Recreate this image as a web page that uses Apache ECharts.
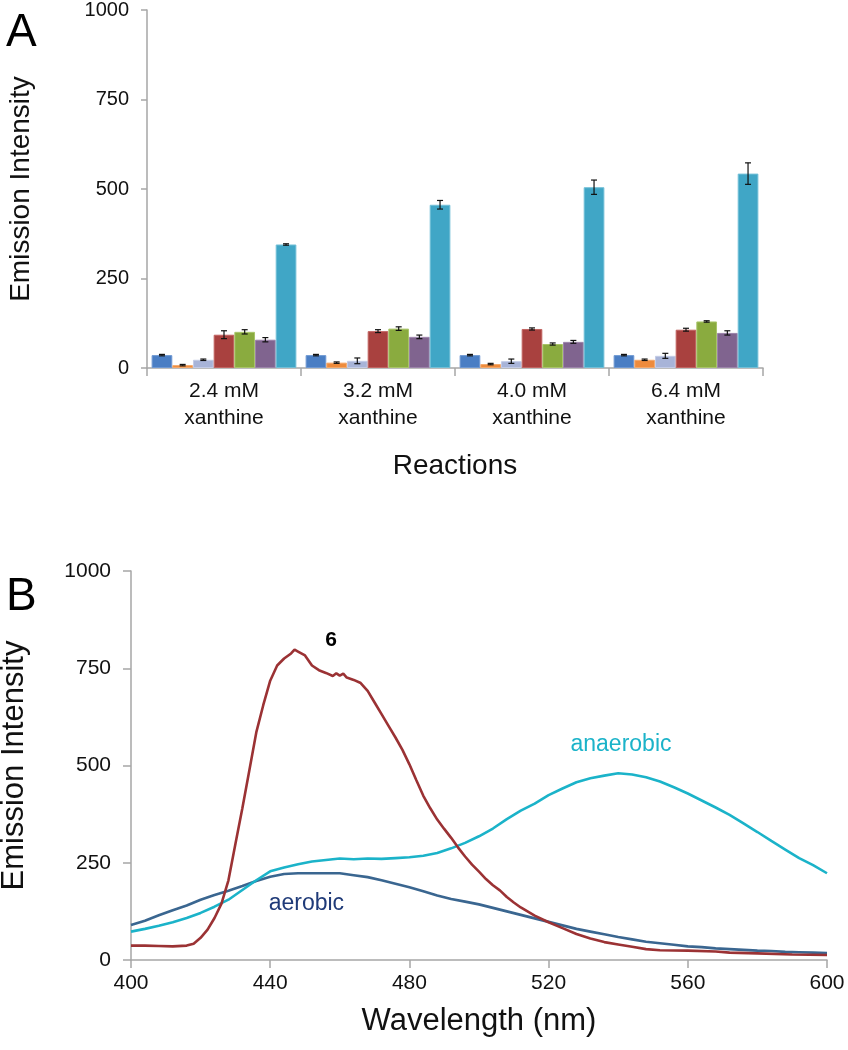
<!DOCTYPE html>
<html>
<head>
<meta charset="utf-8">
<script src="https://cdn.jsdelivr.net/npm/echarts@6/dist/echarts.min.js"></script>
<style>
html,body{margin:0;padding:0;background:#fff;}
#chart{width:848px;height:1050px;}
</style>
</head>
<body>
<div id="chart"></div>
<script>
// ---------- Panel A data ----------
const categories = ['2.4 mM\nxanthine', '3.2 mM\nxanthine', '4.0 mM\nxanthine', '6.4 mM\nxanthine'];
const seriesNames = ['S1', 'S2', 'S3', 'S4', 'S5', 'S6', 'S7'];
const s1Vals = [36, 36, 36, 36];
const s2Vals = [8, 15, 11, 23];
const s3Vals = [23, 20, 19, 34];
const s4Vals = [93, 103, 109, 107];
const s5Vals = [101, 110, 67, 130];
const s6Vals = [79, 87, 73, 98];
const s7Vals = [345, 456, 505, 543];
const s1Err = [2, 2, 2, 2];
const s2Err = [2, 2, 2, 2];
const s3Err = [2, 8, 6, 7];
const s4Err = [11, 4, 3, 4];
const s5Err = [6, 5, 3, 2];
const s6Err = [6, 5, 4, 6];
const s7Err = [2, 12, 20, 30];
const yTicksA = [0, 250, 500, 750, 1000];

// ---------- Panel B data ----------
const redWl = [400,404,408,412,416,418,420,422,424,426,428,430,432,434,436,438,440,442,444,446,447,448,450,452,454,456,458,459,460,461,462,464,466,468,470,472,474,476,478,480,482,484,486,488,490,492,494,496,498,500,502,504,506,508,510,512,516,520,524,528,532,536,540,544,548,552,560,568,572,580,590,600];
const redVals = [37,37,36,35,37,42,57,78,108,145,205,298,390,487,585,655,718,757,775,788,798,793,783,757,745,738,730,737,731,736,726,720,712,692,662,632,602,572,540,503,462,422,390,361,337,314,289,266,245,227,208,192,179,162,148,135,114,97,82,67,55,46,40,34,28,25,24,22,19,17,14,13];
const wl4 = [400,404,408,412,416,420,424,428,432,436,440,444,448,452,456,460,464,468,472,476,480,484,488,492,496,500,504,508,512,516,520,524,528,532,536,540,544,548,552,556,560,564,568,572,576,580,584,588,592,596,600];
const anaerobicVals = [73,80,88,97,108,121,137,155,180,205,228,238,246,253,257,261,259,261,260,262,264,268,275,287,301,318,338,362,384,402,424,441,457,467,474,480,477,470,459,444,428,410,392,373,351,329,306,284,262,244,223];
const aerobicVals = [90,101,115,128,140,155,167,178,190,203,214,221,223,223,223,223,218,213,205,196,187,177,166,157,150,143,134,125,116,107,98,89,80,73,66,59,53,47,43,39,35,33,30,28,26,24,23,21,20,19,18];
const yTicksB = [0, 250, 500, 750, 1000];
const xTicksB = [400, 440, 480, 520, 560, 600];

const barVals = [s1Vals, s2Vals, s3Vals, s4Vals, s5Vals, s6Vals, s7Vals];
const barErrs = [s1Err, s2Err, s3Err, s4Err, s5Err, s6Err, s7Err];
const barColors = ['#4A7EC4', '#EE8B3C', '#A8B4D8', '#A9413F', '#8AAB3F', '#80648F', '#40A6C6'];
const barBorders = ['#6F98D2', '#F4A86A', '#C2CBE6', '#C26462', '#A8C468', '#9C83AA', '#72BFD7'];

const FONT = 'Liberation Sans, Arial, sans-serif';
const GAP = 0.06;
const axisGray = '#A6A6A6';
const plain = v => String(v);

const chart = echarts.init(document.getElementById('chart'));

const barSeries = barVals.map((vals, i) => ({
  type: 'bar',
  name: seriesNames[i],
  xAxisIndex: 0, yAxisIndex: 0,
  data: vals,
  barGap: '0%',
  barCategoryGap: (GAP * 100) + '%',
  itemStyle: { color: barColors[i], borderColor: barBorders[i], borderWidth: 1 },
  silent: true
}));

const errData = [];
barVals.forEach((vals, s) => vals.forEach((v, c) => errData.push([c, s, v, barErrs[s][c]])));

const errSeries = {
  type: 'custom',
  xAxisIndex: 0, yAxisIndex: 0,
  z: 10,
  silent: true,
  data: errData,
  encode: { x: 0, y: 2 },
  renderItem: function (params, api) {
    const c = api.value(0), s = api.value(1), v = api.value(2), e = api.value(3);
    const band = api.size([1, 0])[0];
    const total = band * (1 - GAP);
    const bw = total / barVals.length;
    const center = api.coord([c, 0])[0];
    const x = center - total / 2 + (s + 0.5) * bw;
    const yT = api.coord([c, v + e])[1];
    const yB = api.coord([c, v - e])[1];
    const h = 3;
    const st = { stroke: '#111', lineWidth: 1.2 };
    return {
      type: 'group',
      children: [
        { type: 'line', shape: { x1: x, y1: yT, x2: x, y2: yB }, style: st },
        { type: 'line', shape: { x1: x - h, y1: yT, x2: x + h, y2: yT }, style: st },
        { type: 'line', shape: { x1: x - h, y1: yB, x2: x + h, y2: yB }, style: st }
      ]
    };
  }
};

function pairs(xs, ys) { return xs.map((x, i) => [x, ys[i]]); }

const lineBase = { type: 'line', xAxisIndex: 1, yAxisIndex: 1, showSymbol: false, symbol: 'none', silent: true };

const option = {
  animation: false,
  backgroundColor: '#fff',
  textStyle: { fontFamily: FONT },
  grid: [
    { left: 147, top: 10, width: 616, height: 358, containLabel: false, outerBoundsMode: 'none' },
    { left: 131, top: 571, width: 696, height: 389, containLabel: false, outerBoundsMode: 'none' }
  ],
  xAxis: [
    {
      gridIndex: 0, type: 'category', data: categories,
      axisLine: { lineStyle: { color: axisGray, width: 1.5 } },
      axisTick: { show: true, length: 8, interval: 0, lineStyle: { color: axisGray, width: 1.5 } },
      axisLabel: { color: '#111', fontSize: 21, fontFamily: FONT, lineHeight: 27, margin: 10, interval: 0 },
      name: 'Reactions', nameLocation: 'middle', nameGap: 84,
      nameTextStyle: { fontSize: 28, color: '#111', fontFamily: FONT }
    },
    {
      gridIndex: 1, type: 'value', min: xTicksB[0], max: xTicksB[xTicksB.length - 1], interval: 40,
      axisLine: { onZero: false, lineStyle: { color: axisGray, width: 1.5 } },
      axisTick: { show: true, length: 8, lineStyle: { color: axisGray, width: 1.5 } },
      axisLabel: { color: '#111', fontSize: 21, fontFamily: FONT, margin: 13, formatter: plain },
      splitLine: { show: false },
      name: 'Wavelength (nm)', nameLocation: 'middle', nameGap: 46,
      nameTextStyle: { fontSize: 31, color: '#111', fontFamily: FONT }
    }
  ],
  yAxis: [
    {
      gridIndex: 0, type: 'value', min: yTicksA[0], max: yTicksA[yTicksA.length - 1], interval: 250,
      axisLine: { show: true, lineStyle: { color: axisGray, width: 1.5 } },
      axisTick: { show: true, length: 6, lineStyle: { color: axisGray, width: 1.5 } },
      axisLabel: { color: '#111', fontSize: 20, fontFamily: FONT, margin: 18, formatter: plain },
      splitLine: { show: false },
      name: 'Emission Intensity', nameLocation: 'middle', nameGap: 112,
      nameTextStyle: { fontSize: 28, color: '#111', fontFamily: FONT }
    },
    {
      gridIndex: 1, type: 'value', min: yTicksB[0], max: yTicksB[yTicksB.length - 1], interval: 250,
      axisLine: { show: true, lineStyle: { color: axisGray, width: 1.5 } },
      axisTick: { show: true, length: 8, lineStyle: { color: axisGray, width: 1.5 } },
      axisLabel: { color: '#111', fontSize: 21, fontFamily: FONT, margin: 20, formatter: plain },
      splitLine: { show: false },
      name: 'Emission Intensity', nameLocation: 'middle', nameGap: 101,
      nameTextStyle: { fontSize: 31, color: '#111', fontFamily: FONT }
    }
  ],
  graphic: [
    { type: 'text', left: 6, top: 10, style: { text: 'A', fontSize: 46, fontFamily: FONT, fill: '#000' } },
    { type: 'text', left: 6, top: 574, style: { text: 'B', fontSize: 46, fontFamily: FONT, fill: '#000' } }
  ],
  series: barSeries.concat([errSeries,
    Object.assign({}, lineBase, {
      name: 'aerobic', data: pairs(wl4, aerobicVals),
      lineStyle: { color: '#3A6690', width: 2.6 }, z: 3,
      markPoint: { symbol: 'circle', symbolSize: 0, silent: true,
        label: { show: true, position: 'inside', formatter: 'aerobic', color: '#1F3A78', fontSize: 23, fontFamily: FONT },
        data: [{ coord: [450.4, 144] }] }
    }),
    Object.assign({}, lineBase, {
      name: 'anaerobic', data: pairs(wl4, anaerobicVals),
      lineStyle: { color: '#1BB3C9', width: 2.6 }, z: 4,
      markPoint: { symbol: 'circle', symbolSize: 0, silent: true,
        label: { show: true, position: 'inside', formatter: 'anaerobic', color: '#1BB3C9', fontSize: 23, fontFamily: FONT },
        data: [{ coord: [540.8, 553] }] }
    }),
    Object.assign({}, lineBase, {
      name: '6', data: pairs(redWl, redVals),
      lineStyle: { color: '#9B3234', width: 2.6 }, z: 5,
      markPoint: { symbol: 'circle', symbolSize: 0, silent: true,
        label: { show: true, position: 'inside', formatter: '6', color: '#000', fontSize: 21, fontWeight: 'bold', fontFamily: FONT },
        data: [{ coord: [457.5, 822] }] }
    })
  ])
};

chart.setOption(option);
</script>
</body>
</html>
